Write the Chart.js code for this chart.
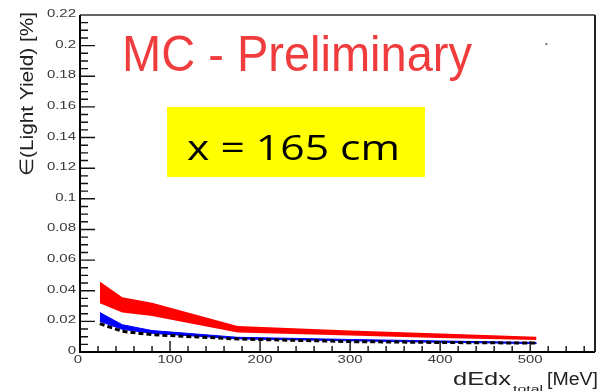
<!DOCTYPE html>
<html>
<head>
<meta charset="utf-8">
<script src="https://cdn.jsdelivr.net/npm/chart.js@4.4.1/dist/chart.umd.min.js"></script>
<style>
  html, body { margin: 0; padding: 0; background: #fff; }
  canvas { display: block; }
</style>
</head>
<body>
<canvas id="chart" width="604" height="391"></canvas>
<script>
// dEdx bins (MeV) and the resolution bands (%)
const dEdx      = [22, 47, 80, 175, 300, 400, 507];
const redHigh   = [0.0460, 0.0357, 0.0322, 0.0170, 0.0140, 0.0120, 0.0100];
const redLow    = [0.0318, 0.0258, 0.0235, 0.0128, 0.0108, 0.0092, 0.0078];
const blueHigh  = [0.0258, 0.0178, 0.0140, 0.0096, 0.0082, 0.0072, 0.0062];
const blueLow   = [0.0200, 0.0148, 0.0122, 0.0086, 0.0073, 0.0064, 0.0055];
const blackLine = [0.0185, 0.0135, 0.0113, 0.0085, 0.0068, 0.0062, 0.0058];
const strayX = [518];
const strayY = [0.201];

const xTickValues = [0, 100, 200, 300, 400, 500];
const xTickLabels = ['0', '100', '200', '300', '400', '500'];
const yTickValues = [0, 0.02, 0.04, 0.06, 0.08, 0.1, 0.12, 0.14, 0.16, 0.18, 0.2, 0.22];
const yTickLabels = ['0', '0.02', '0.04', '0.06', '0.08', '0.1', '0.12', '0.14', '0.16', '0.18', '0.2', '0.22'];

const pts = ys => dEdx.map((x, i) => ({ x, y: ys[i] }));

// draw text squeezed/stretched so it spans exactly w pixels
function fitText(ctx, text, x, y, w) {
  const m = ctx.measureText(text).width;
  ctx.save();
  ctx.translate(x, y);
  ctx.scale(w / m, 1);
  ctx.textAlign = 'left';
  ctx.fillText(text, 0, 0);
  ctx.restore();
}

// draw text widened by sx, anchored by align
function wideText(ctx, text, x, y, sx, align) {
  const w = ctx.measureText(text).width * sx;
  const x0 = align === 'right' ? x - w : align === 'center' ? x - w / 2 : x;
  ctx.save();
  ctx.translate(x0, y);
  ctx.scale(sx, 1);
  ctx.textAlign = 'left';
  ctx.fillText(text, 0, 0);
  ctx.restore();
}

const rootAxes = {
  id: 'rootAxes',
  afterDraw(chart) {
    const { ctx, chartArea: a, scales: { x, y } } = chart;
    ctx.save();

    // inner tick marks
    ctx.strokeStyle = '#111';
    ctx.lineWidth = 1.4;
    ctx.beginPath();
    for (let k = 0; k <= 44; k++) {
      const py = y.getPixelForValue(k * 0.005);
      const len = k % 4 === 0 ? 15 : 8;
      ctx.moveTo(a.left, py);
      ctx.lineTo(a.left + len, py);
    }
    for (let k = 0; k <= 28; k++) {
      const px = x.getPixelForValue(k * 20);
      const len = k % 5 === 0 ? 11 : 6;
      ctx.moveTo(px, a.bottom);
      ctx.lineTo(px, a.bottom - len);
    }
    ctx.stroke();

    // frame
    ctx.lineWidth = 2;
    ctx.strokeStyle = '#666';
    ctx.beginPath();
    ctx.moveTo(a.left, a.top); ctx.lineTo(a.right, a.top);
    ctx.stroke();
    ctx.strokeStyle = '#222';
    ctx.beginPath();
    ctx.moveTo(a.right, a.top); ctx.lineTo(a.right, a.bottom);
    ctx.stroke();
    ctx.strokeStyle = '#000';
    ctx.beginPath();
    ctx.moveTo(a.left, a.top); ctx.lineTo(a.left, a.bottom); ctx.lineTo(a.right, a.bottom);
    ctx.stroke();

    // tick labels
    ctx.fillStyle = '#3a3a3a';
    ctx.font = '11px "Liberation Sans", Arial, sans-serif';
    ctx.textBaseline = 'middle';
    yTickValues.forEach((v, i) => {
      wideText(ctx, yTickLabels[i], a.left - 4, y.getPixelForValue(v) - 1, 1.36, 'right');
    });
    xTickValues.forEach((v, i) => {
      wideText(ctx, xTickLabels[i], x.getPixelForValue(v) - (v === 0 ? 2 : 0), a.bottom + 8, 1.36, 'center');
    });

    // axis titles
    ctx.fillStyle = '#222';
    ctx.textBaseline = 'alphabetic';
    ctx.font = '18px "Liberation Sans", Arial, sans-serif';
    fitText(ctx, 'dEdx', 453, 385, 58);
    fitText(ctx, '[MeV]', 547, 385, 51);
    ctx.font = '9px "Liberation Sans", Arial, sans-serif';
    fitText(ctx, 'total', 513, 392, 30);

    ctx.save();
    ctx.translate(33, 176);
    ctx.rotate(-Math.PI / 2);
    ctx.font = '19px "Liberation Sans", "DejaVu Sans", sans-serif';
    fitText(ctx, '\u2208(Light Yield) [%]', 0, 0, 164);
    ctx.restore();

    // overlays
    ctx.fillStyle = '#f03c3c';
    ctx.font = '50px "Liberation Sans", Arial, sans-serif';
    fitText(ctx, 'MC - Preliminary', 122, 71, 350);

    ctx.fillStyle = '#ffff00';
    ctx.fillRect(167, 107, 258, 70);
    ctx.fillStyle = '#000';
    ctx.font = '35px "Open Sans", Lato, sans-serif';
    fitText(ctx, 'x = 165 cm', 187, 160, 213);

    ctx.restore();
  }
};

new Chart(document.getElementById('chart'), {
  type: 'line',
  data: {
    datasets: [
      {
        data: pts(blackLine),
        borderColor: '#000',
        borderWidth: 3,
        borderDash: [5, 3],
        pointRadius: 0,
        fill: false
      },
      {
        data: pts(blueHigh),
        borderColor: '#0000ff',
        borderWidth: 1,
        backgroundColor: '#0000ff',
        pointRadius: 0,
        fill: '+1'
      },
      {
        data: pts(blueLow),
        borderColor: '#0000ff',
        borderWidth: 1,
        pointRadius: 0,
        fill: false
      },
      {
        data: pts(redHigh),
        borderColor: 'rgba(0,0,0,0)',
        borderWidth: 0,
        backgroundColor: '#ff0000',
        pointRadius: 0,
        fill: '+1'
      },
      {
        data: pts(redLow),
        borderColor: 'rgba(0,0,0,0)',
        borderWidth: 0,
        pointRadius: 0,
        fill: false
      },
      {
        type: 'scatter',
        data: strayX.map((x, i) => ({ x, y: strayY[i] })),
        pointRadius: 1.2,
        pointBackgroundColor: '#777',
        pointBorderWidth: 0
      }
    ]
  },
  options: {
    responsive: false,
    animation: false,
    layout: { padding: { left: 80, top: 15, right: 9, bottom: 39 } },
    plugins: { legend: { display: false }, tooltip: { enabled: false } },
    scales: {
      x: { type: 'linear', min: 0, max: 572, display: false },
      y: { min: 0, max: 0.22, display: false }
    }
  },
  plugins: [rootAxes]
});
</script>
</body>
</html>
